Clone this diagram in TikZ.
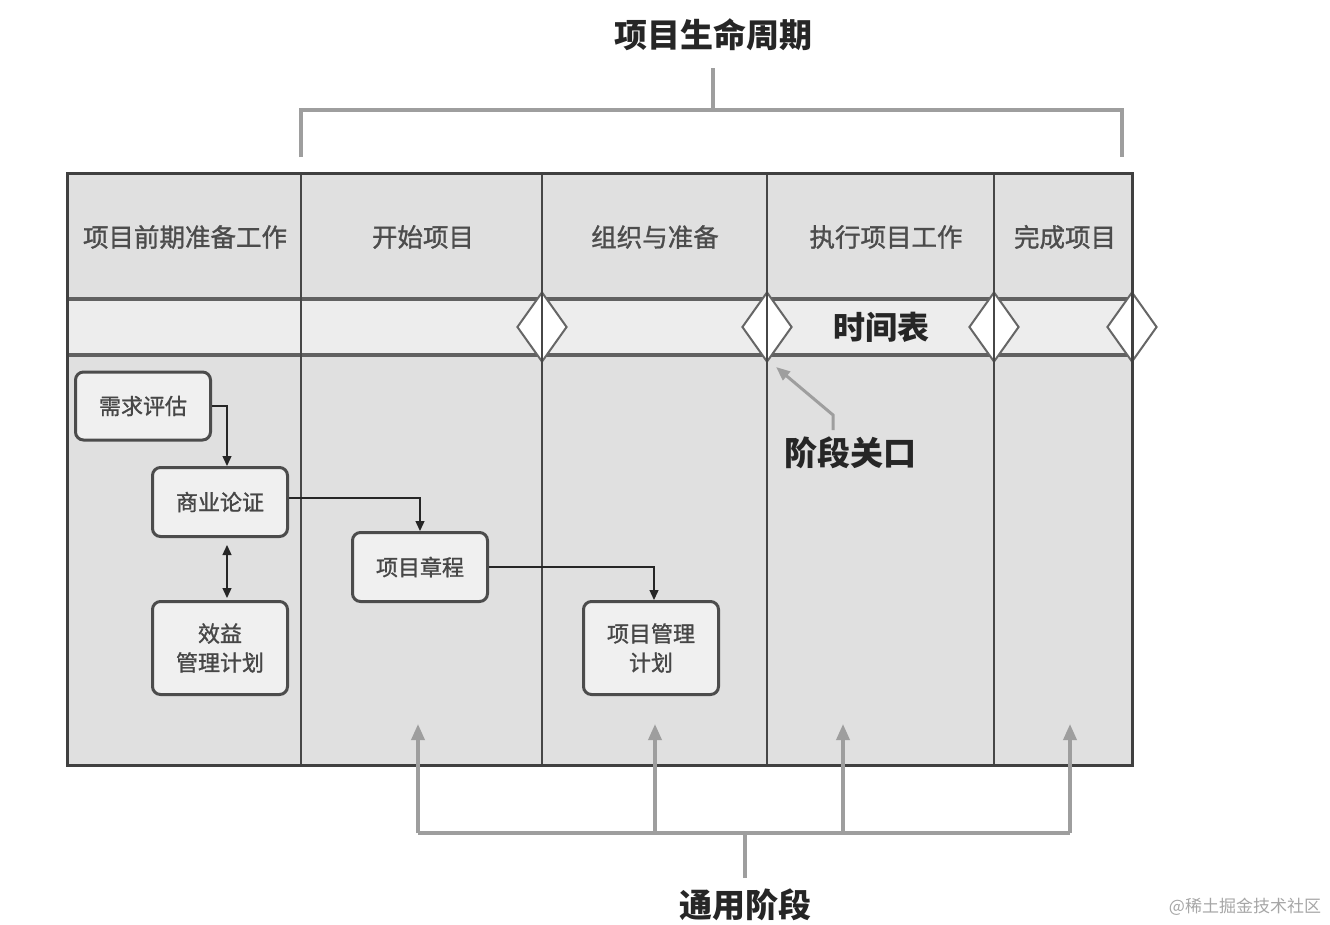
\documentclass[tikz,border=0pt]{standalone}
\usepackage{fontspec}
\newfontfamily\cjk{Noto Sans CJK SC}
\newfontfamily\cjkm[FakeBold=1.2]{Noto Sans CJK SC}
\usetikzlibrary{positioning}
\usetikzlibrary{arrows.meta,shapes.geometric}
\usetikzlibrary{calc}
\tikzstyle{stepbox}=[draw=black!70, line width=3pt, rounded corners=8pt, fill=black!6, minimum width=135pt, inner sep=0pt, align=center, font=\cjkm\fontsize{22}{29}\selectfont, text=black!72]
\tikzstyle{gate}=[diamond, draw=black!60, line width=2pt, fill=white, minimum width=50pt, minimum height=70pt, inner sep=0pt]
\tikzstyle{flow}=[draw=black!85, line width=1.3pt, -{Triangle[length=10pt,width=9pt]}]
\tikzstyle{bracket}=[draw=black!38, line width=3.5pt]
\tikzstyle{phasearrow}=[draw=black!38, line width=3.5pt, -{Triangle[length=16pt,width=13pt]}]
\tikzstyle{title}=[font=\cjk\bfseries\fontsize{33}{38}\selectfont, text=black!85]
\tikzstyle{head}=[font=\cjkm\fontsize{25.5}{30}\selectfont, text=black!70]
\tikzstyle{grid}=[draw=black!72, line width=2pt]

\begin{document}
\begin{tikzpicture}[x=1pt, y=-1pt]
    \useasboundingbox (0,0) rectangle (1330,924);

    % background of the three rows
    \fill[black!12] (67,173) rectangle (1132,299);
    \fill[black!7] (67,299) rectangle (1132,355);
    \fill[black!12] (67,355) rectangle (1132,765);

    % timeline band
    \draw[line width=4pt, black!62] (67,299) -- (1132,299);
    \draw[line width=4pt, black!62] (67,355) -- (1132,355);

    % phase gates
    \foreach \x/\name in {542/g2, 767/g3, 994/g4, 1132/g5}
        \node[gate] (\name) at (\x,327) {};

    % column dividers
    \foreach \x in {301, 542, 767, 994}
        \draw[grid] (\x,173) -- (\x,765);
    \draw[line width=3pt, black!75] (67,173) rectangle (1132,765);

    % phase headers
    \foreach \pos/\name/\label in {{(185,237)/h0/项目前期准备工作}, {(423,237)/h1/开始项目}, {(655,237)/h2/组织与准备}, {(886,237)/h3/执行项目工作}, {(1065,237)/h4/完成项目}}
        \node[head] (\name) at \pos {\label};

    \node[title, font=\cjk\bfseries\fontsize{32}{38}\selectfont] (sched) at (881,327) {时间表};

    % documents
    \node[stepbox, minimum height=68pt] (needs) at (143,406) {需求评估};
    \node[stepbox, minimum height=69pt] (bcase) at (220,502) {商业论证};
    \node[stepbox, minimum height=93pt] (bplan) at (220,648) {效益\\管理计划};
    \node[stepbox, minimum height=69pt] (charter) at (420,567) {项目章程};
    \node[stepbox, minimum height=93pt] (pmplan) at (651,648) {项目管理\\计划};

    % flow between documents
    \draw[flow] (needs.east) -| ([xshift=7pt]bcase.north);
    \draw[flow] ([yshift=4pt]bcase.east) -| (charter.north);
    \draw[flow] (charter.east) -| ([xshift=3pt]pmplan.north);
    \draw[flow, {Triangle[length=10pt,width=9pt]}-{Triangle[length=10pt,width=9pt]}, shorten <=7pt, shorten >=2pt] ([xshift=7pt]bcase.south) -- ([xshift=7pt]bplan.north);

    % phase gate label
    \node[title] (gatelbl) at (850,453) {阶段关口};
    \coordinate (gbend) at (833,415);
    \draw[phasearrow, line width=3pt, -{Triangle[length=14pt,width=11pt]}] (833,430) -- (gbend) -- ($(g3.south)+(9,4)$);

    % project life cycle
    \node[title] (life) at (713,35) {项目生命周期};
    \coordinate (lifetop) at (713,68);
    \coordinate (lifemid) at (713,110);
    \draw[bracket] (lifetop) -- (lifemid);
    \draw[bracket] (301,157) -- (301,110) -- (1122,110) -- (1122,157);

    % generic phases
    \node[title] (generic) at (745,905) {通用阶段};
    \coordinate (gentop) at (745,833);
    \draw[bracket] (745,878) -- (gentop);
    \draw[bracket] (418,833) -- (1070,833);
    \foreach \x in {418, 655, 843, 1070}
        \draw[phasearrow] (\x,833) -- (\x,724);

    \node[font=\cjk\fontsize{17}{20}\selectfont, text=black!35] (mark) at (1245,907) {@稀土掘金技术社区};
\end{tikzpicture}
\end{document}
